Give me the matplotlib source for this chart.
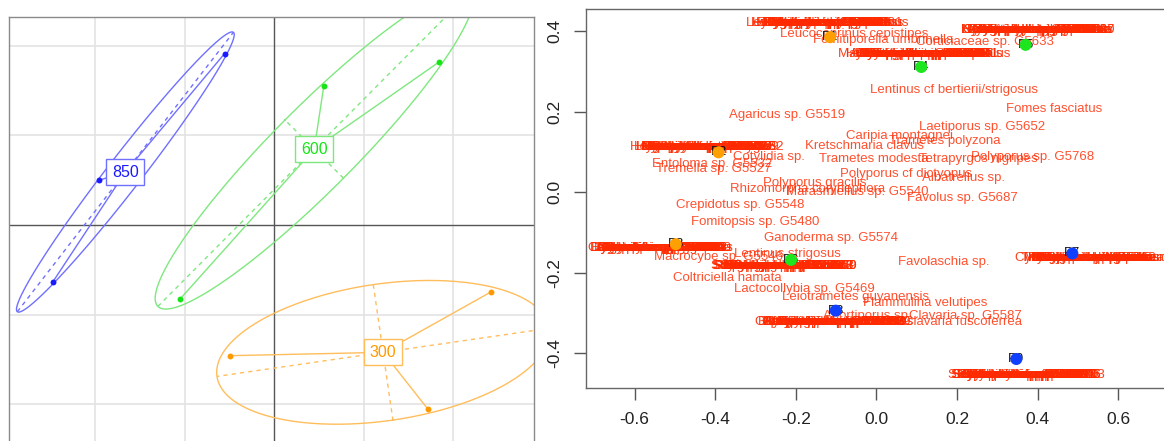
import numpy as np
import matplotlib.pyplot as plt

plt.rcParams['font.family'] = ['Liberation Sans', 'DejaVu Sans']
plt.rcParams['axes.unicode_minus'] = False

# ---- left panel: sample scores grouped by altitude class ----
grp_labels = ['850', '600', '300']
grp_x = [[-0.558, -1.962, -2.477],
         [0.551, 1.839, -1.057],
         [2.417, -0.492, 1.716]]
grp_y = [[1.914, 0.499, -0.637],
         [1.553, 1.821, -0.830],
         [-0.749, -1.460, -2.059]]
grp_pt = ['#1a1aff', '#14e614', '#ff9900']
grp_ln = ['#7070ff', '#7ee87e', '#ffbd5c']

# ---- right panel: samples ----
samp_names = ['P1', 'P2', 'P3', 'P4', 'P5', 'P6', 'P7', 'P8', 'P9']
samp_x = [-0.115, -0.392, -0.498, 0.111, 0.370, -0.212, 0.486, -0.101, 0.347]
samp_y = [0.385, 0.099, -0.129, 0.311, 0.366, -0.168, -0.152, -0.294, -0.414]
samp_col = ['#ffa000'] * 3 + ['#1ee61e'] * 3 + ['#1040ff'] * 3

# species with their own position
sp_names = ['Leucocoprinus cepistipes', 'Fomitiporella umbrinella',
            'Corticiaceae sp. G5633', 'Lentinus cf bertierii/strigosus',
            'Fomes fasciatus', 'Agaricus sp. G5519', 'Laetiporus sp. G5652',
            'Caripia montagnei', 'Trametes polyzona', 'Kretschmaria clavus',
            'Cotylidia sp.', 'Trametes modesta', 'Tetrapyrgos nigripes',
            'Polyporus sp. G5768', 'Entoloma sp. G5532', 'Tremella sp. G5527',
            'Polyporus cf dictyopus', 'Albatrellus sp.', 'Polyporus gracilis',
            'Rhizomorpha corynephora', 'Marasmiellus sp. G5540',
            'Favolus sp. G5687', 'Crepidotus sp. G5548', 'Fomitopsis sp. G5480',
            'Ganoderma sp. G5574', 'Lentinus strigosus', 'Macrocybe sp. G5546',
            'Favolaschia sp.', 'Coltriciella hamata', 'Lactocollybia sp. G5469',
            'Leiotrametes guyanensis', 'Flammulina velutipes', 'Abortiporus sp.',
            'Clavaria sp. G5587', 'Clavaria fuscoferrea']
sp_x = [-0.055, 0.017, 0.268, 0.193, 0.440, -0.221, 0.262, 0.057, 0.170,
        -0.029, -0.268, -0.008, 0.254, 0.388, -0.407, -0.404, 0.074, 0.215,
        -0.152, -0.171, -0.048, 0.212, -0.337, -0.301, -0.112, -0.220, -0.393,
        0.168, -0.371, -0.180, -0.051, 0.121, -0.024, 0.220, 0.215]
sp_y = [0.392, 0.378, 0.372, 0.255, 0.206, 0.192, 0.161, 0.140, 0.128,
        0.116, 0.088, 0.083, 0.083, 0.088, 0.070, 0.057, 0.045, 0.036,
        0.024, 0.008, 0.000, -0.015, -0.032, -0.075, -0.114, -0.154, -0.162,
        -0.172, -0.212, -0.239, -0.261, -0.276, -0.307, -0.307, -0.323]

# species sharing one position (found in a single sample)
blob_a = ['Leucoagaricus sp. G5601', 'Gymnopilus lepidotus', 'Hydnopolyporus palmatus',
          'Pluteus sp. G5612', 'Mycena sp. G5608', 'Cookeina tricholoma',
          'Auricularia delicata', 'Gymnopus sp. G5605', 'Phillipsia domingensis',
          'Hexagonia hydnoides', 'Xylaria sp. G5610', 'Endocyphus microporus',
          'Leucocoprinus fragilissimus', 'Lepiota sp. G5603', 'Entoloma sp. G5609',
          'Hygrocybe sp. G5611', 'Panaeolus sp. G5602', 'Mycena sp. G5614',
          'Lentaria sp. G5606', 'Pholiota sp. G5607']
blob_b = ['Lentinula sp. G5631', 'Oudemansiella canarii', 'Gloeophyllum striatum',
          'Schizophyllum commune', 'Pycnoporus sanguineus', 'Cymatoderma caperatum',
          'Hygrocybe sp. G5629', 'Lepiota sp. G5626', 'Nothopanus hygrophanus',
          'Panus strigellus', 'Trichaptum sector', 'Inonotus sp. G5635',
          'Lentinus sp. G5625', 'Lachnocladium sp. G5627', 'Hymenochaete sp. G5630',
          'Gymnopus sp. G5632', 'Clitopilus sp. G5634', 'Mycena sp. G5628',
          'Dictyopanus sp. G5624']
blob_c = ['Stereopsis hiscens', 'Coriolopsis sp. G5643', 'Earliella scabrosa',
          'Hymenochaete damicornis', 'Amauroderma sp. G5641', 'Perenniporia martia',
          'Marasmius haematocephalus', 'Crinipellis sp. G5636', 'Tyromyces sp. G5648',
          'Skeletocutis sp. G5645', 'Stereum sp. G5640', 'Gymnopilus sp. G5644',
          'Hydropus sp. G5639', 'Psathyrella sp. G5642', 'Trogia sp. G5637',
          'Marasmius sp. G5638', 'Resupinatus sp. G5647', 'Stropharia sp. G5646']
blob_d = ['Lepista sp. G5551', 'Clitocybe sp. G5549', 'Collybia sp. G5553',
          'Gerronema sp. G5550', 'Hohenbuehelia sp. G5552', 'Inocybe sp. G5554',
          'Lentinus crinitus', 'Psathyrella sp. G5556', 'Marasmius sp. G5547',
          'Mycena cf epipterygia', 'Hypholoma sp. G5557', 'Laccaria sp. G5551',
          'Lepiota cf cristata', 'Hygrophorus sp. G5558', 'Leucopaxillus sp. G5559',
          'Pluteus sp. G5560', 'Conocybe sp. G5561', 'Cyathus striatus',
          'Lentinula raphanica']
blob_e = ['Agrocybe sp. G5491', 'Amanita sp. G5493', 'Armillaria puiggarii',
          'Boletus sp. G5488', 'Cantharellus guyanensis', 'Clavulina sp. G5495',
          'Cortinarius sp. G5487', 'Dacryopinax spathularia', 'Geastrum saccatum',
          'Hygrophorus sp. G5490', 'Lycoperdon sp. G5498', 'Ramaria sp. G5483',
          'Amanita craseoderma', 'Auricularia sp. G5494', 'Gymnopus sp. G5496',
          'Mycena sp. G5497', 'Russula sp. G5489', 'Lactarius sp. G5492',
          'Tricholoma sp. G5499']
blob_f = ['Scleroderma sp. G5578', 'Stereum sp. G5571', 'Steccherinum sp. G5570',
          'Serpula sp. G5576', 'Simocybe sp. G5575', 'Sarcoscypha sp. G5572',
          'Spongipellis unicolor', 'Rigidoporus lineatus', 'Podoscypha sp. G5573',
          'Phellinus sp. G5577', 'Oxyporus sp. G5578', 'Scytinopogon sp. G5569',
          'Stropharia sp. G5568', 'Pleurotus djamor', 'Postia sp. G5567',
          'Phlebia sp. G5566', 'Sistotrema sp. G5565', 'Stereum sp. G5578']
blob_g = ['Stereum hirsutum', 'Polyporus tenuiculus', 'Trametes cubensis',
          'Lenzites elegans', 'Cerrena hydnoides', 'Ganoderma australe',
          'Fomitella supina', 'Hexagonia papyracea', 'Microporellus obovatus',
          'Phellinus punctatus', 'Pyrofomes sp. G5712', 'Schizopora flavipora',
          'Trametes villosa', 'Polyporus leprieurii', 'Trametes membranacea',
          'Lenzites betulinus', 'Phellinus sp. G5715', 'Nigroporus vinosus',
          'Cymatoderma dendriticum', 'Stereum ostrea']
blob_h = ['Antrodiella sp. G5590', 'Aleurodiscus sp. G5585', 'Auriscalpium sp. G5583',
          'Bjerkandera adusta', 'Ceriporia sp. G5581', 'Coltricia sp. G5588',
          'Diplomitoporus sp. G5589', 'Flavodon flavus', 'Gloeoporus thelephoroides',
          'Junghuhnia nitida', 'Lopharia cinerascens', 'Antrodia sp. G5584',
          'Amylosporus sp. G5586', 'Ceriporiopsis sp. G5582', 'Cyathus sp. G5591',
          'Dacrymyces sp. G5592', 'Hydnochaete sp. G5593', 'Grammothele sp. G5580']
blob_i = ['Scytinostroma sp. G5705', 'Stereum sp. G5695', 'Subulicystidium sp. G5703',
          'Tremella fuciformis', 'Tulasnella sp. G5699', 'Xylobolus frustulatus',
          'Phlebia sp. G5701', 'Peniophora sp. G5697', 'Hyphodontia sp. G5693',
          'Hydnum sp. G5704', 'Resupinatus sp. G5695', 'Sebacina sp. G5698',
          'Steccherinum sp. G5700', 'Sistotrema sp. G5702', 'Skeletocutis sp. G5694',
          'Stereum sp. G5706', 'Schizophyllum sp. G5696', 'Sebacina incrustans']
blob_groups = [blob_a, blob_b, blob_c, blob_d, blob_e, blob_f, blob_g, blob_h, blob_i]
blob_x = [-0.123, 0.399, 0.118, -0.422, -0.535, -0.230, 0.535, -0.105, 0.371]
blob_y = [0.421, 0.403, 0.343, 0.113, -0.139, -0.183, -0.163, -0.323, -0.453]

RED = '#ff2a00'

fig = plt.figure(figsize=(11.64, 4.41), dpi=100)

# ================= left: s.class style plot =================
ax1 = fig.add_axes([0.0074, -0.0379, 0.4514, 1.0])
ax1.set_xlim(-2.97, 2.90)
ax1.set_ylim(-2.6, 2.327)
for v in [-2, -1, 1, 2]:
    ax1.axvline(v, color='#e3e3e3', lw=1.2, zorder=0)
    ax1.axhline(v, color='#e3e3e3', lw=1.2, zorder=0)
ax1.axvline(0, color='#555555', lw=1.0, zorder=1)
ax1.axhline(0, color='#555555', lw=1.0, zorder=1)

t = np.linspace(0, 2 * np.pi, 300)
for lab, gx, gy, cp, cl in zip(grp_labels, grp_x, grp_y, grp_pt, grp_ln):
    pts = np.column_stack([gx, gy])
    m = pts.mean(axis=0)
    cov = np.cov(pts.T, bias=True)
    vals, vecs = np.linalg.eigh(cov)
    half = 1.5 * np.sqrt(np.clip(vals, 0, None))
    ell = m + (vecs @ (half[:, None] * np.vstack([np.cos(t), np.sin(t)]))).T
    ax1.plot(ell[:, 0], ell[:, 1], color=cl, lw=1.0, zorder=2)
    for k in range(2):
        a = m - half[k] * vecs[:, k]
        b = m + half[k] * vecs[:, k]
        ax1.plot([a[0], b[0]], [a[1], b[1]], color=cl, lw=1.0,
                 ls=(0, (3, 3)), zorder=2)
    for px, py in pts:
        ax1.plot([m[0], px], [m[1], py], color=cl, lw=1.0, zorder=2)
    ax1.scatter(gx, gy, s=18, color=cp, zorder=3, linewidths=0)
    ax1.text(m[0], m[1], lab, ha='center', va='center', fontsize=11.5, color=cp,
             zorder=4, bbox=dict(boxstyle='square,pad=0.35', fc='white', ec=cl, lw=1.0))

ax1.set_xticks([])
ax1.set_yticks([])
for s in ax1.spines.values():
    s.set_color('#8a8a8a')
    s.set_linewidth(1.0)

# ================= right: species/sample ordination =================
ax2 = fig.add_axes([0.5037, 0.1202, 0.4986, 0.8594])
ax2.set_xlim(-0.72, 0.72)
ax2.set_ylim(-0.486, 0.455)

for name, x, y in zip(sp_names, sp_x, sp_y):
    ax2.text(x, y, name, ha='center', va='center', color=RED, alpha=0.82,
             fontsize=9.5, clip_on=True, zorder=2)
for names, x, y in zip(blob_groups, blob_x, blob_y):
    for name in names:
        ax2.text(x, y, name, ha='center', va='center', color=RED, alpha=0.9,
                 fontsize=9.5, clip_on=True, zorder=2)

for name, x, y in zip(samp_names, samp_x, samp_y):
    ax2.text(x, y, name, ha='center', va='center', color='#111111',
             fontsize=9.5, zorder=3)
ax2.scatter(samp_x, samp_y, s=75, c=samp_col, zorder=4, linewidths=0)

xt = [-0.6, -0.4, -0.2, 0.0, 0.2, 0.4, 0.6]
yt = [-0.4, -0.2, 0.0, 0.2, 0.4]
ax2.set_xticks(xt)
ax2.set_xticklabels(['%.1f' % v for v in xt])
ax2.set_yticks(yt)
ax2.set_yticklabels(['%.1f' % v for v in yt], rotation=90, va='center')
ax2.tick_params(length=8.5, width=1.0, color='#555555', labelsize=12.5,
                labelcolor='#222222', pad=9)
for s in ax2.spines.values():
    s.set_color('#666666')
    s.set_linewidth(1.0)

fig.savefig('out.png', dpi=100)
